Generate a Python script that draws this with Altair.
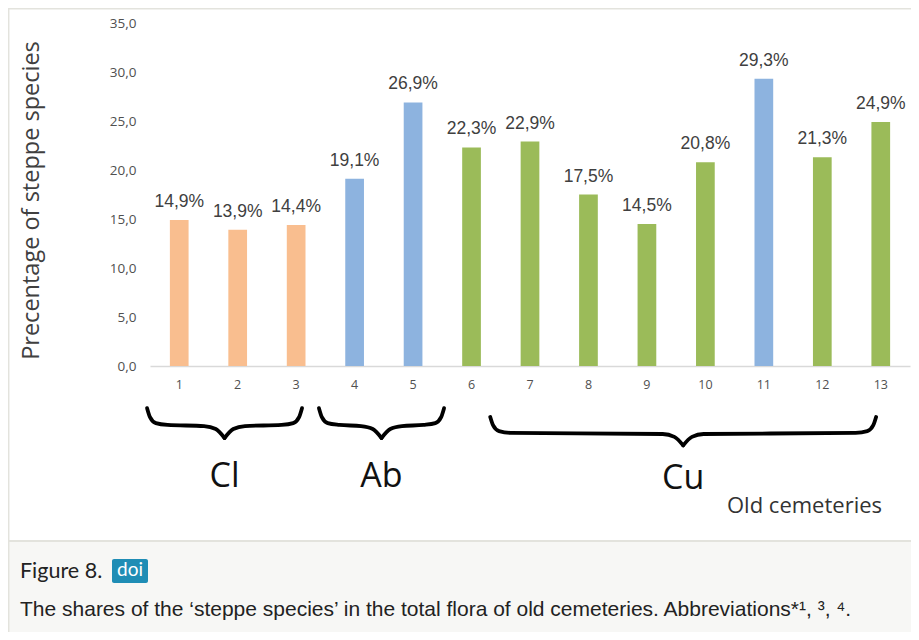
import altair as alt
import pandas as pd

# ---- data ----
sites = list(range(1, 14))
values = [14.9, 13.9, 14.4, 19.1, 26.9, 22.3, 22.9, 17.5, 14.5, 20.8, 29.3, 21.3, 24.9]
bar_class = ["Cl", "Cl", "Cl", "Ab", "Ab", "Cu", "Cu", "Cu", "Cu", "Cu", "Ab", "Cu", "Cu"]
class_domain = ["Cl", "Ab", "Cu"]
class_colors = ["#F9BE8F", "#8DB3DF", "#9BBB59"]

groups = ["Cl", "Ab", "Cu"]
group_start = [0.45, 3.39, 6.32]   # in site units
group_end = [3.10, 5.53, 12.92]
brace_top = [-4.3, -4.3, -5.2]     # in value units (below the axis)
brace_tip = [-7.35, -7.35, -8.1]
group_label_y = [-11.3, -11.3, -11.5]

y_ticks = [0, 5, 10, 15, 20, 25, 30, 35]

W, H = 760, 343

bars_df = pd.DataFrame({
    "site": sites,
    "value": values,
    "type": bar_class,
    "label": [f"{v:.1f}".replace(".", ",") + "%" for v in values],
})

# brace curves (template shape in normalized depth 0..1)
rows = []
for g, a, b, t, p in zip(groups, group_start, group_end, brace_top, brace_tip):
    m = (a + b) / 2
    left = [(a, 0.0), (a + 0.05, 0.3), (a + 0.15, 0.5), (a + 0.35, 0.56),
            (m - 0.35, 0.6), (m - 0.15, 0.7), (m, 1.0)]
    right = [(2 * m - x, v) for x, v in left]
    for half, pts in (("L", left), ("R", right)):
        for x, v in pts:
            rows.append({"g": g, "half": g + half, "bx": x, "by": t + v * (p - t)})
brace_df = pd.DataFrame(rows)

glabel_df = pd.DataFrame({
    "g": groups,
    "gx": [(a + b) / 2 for a, b in zip(group_start, group_end)],
    "gy": group_label_y,
})

one = pd.DataFrame({"k": [0]})

yscale = alt.Scale(domain=[0, 35], nice=False, zero=False)
xband = alt.Scale(paddingInner=0.68, paddingOuter=0.34)

# ---- frame & caption background ----
caption_bg = alt.Chart(one).mark_rect(color="#F7F7F5").encode(
    x=alt.value(-142), x2=alt.value(761), y=alt.value(518), y2=alt.value(620))
caption_line = alt.Chart(one).mark_rule(color="#E3E3DD", strokeWidth=2).encode(
    x=alt.value(-142), x2=alt.value(761), y=alt.value(518))
top_line = alt.Chart(one).mark_rule(color="#E3E3DD", strokeWidth=1.5).encode(
    x=alt.value(-142), x2=alt.value(761), y=alt.value(-14.2))
left_line = alt.Chart(one).mark_rule(color="#E3E3DD", strokeWidth=1.5).encode(
    x=alt.value(-141.3), y=alt.value(-15), y2=alt.value(620))

bars = alt.Chart(bars_df).mark_bar().encode(
    x=alt.X("site:O", scale=xband, sort=None,
            axis=alt.Axis(title=None, labelAngle=0, ticks=False, labelPadding=12,
                          labelFont="Open Sans", labelFontSize=12.5, labelColor="#505050",
                          domainColor="#D9D9D9", domainWidth=1.5)),
    y=alt.Y("value:Q", scale=yscale,
            axis=alt.Axis(values=y_ticks, grid=False, domain=False, ticks=False,
                          labelPadding=14, labelFlush=False,
                          labelExpr="replace(format(datum.value, '.1f'), '.', ',')",
                          labelFont="Open Sans", labelFontSize=13.5, labelColor="#505050",
                          title="Precentage of steppe species", titleFont="Open Sans",
                          titleFontSize=23.5, titleFontWeight="normal", titleColor="#404040",
                          titleAngle=270, titleX=-119, titleY=177, titleAlign="center",
                          titleBaseline="middle")),
    color=alt.Color("type:N", scale=alt.Scale(domain=class_domain, range=class_colors),
                    legend=None),
)

value_labels = alt.Chart(bars_df).mark_text(
    font="Liberation Sans", fontSize=17.5, color="#404040", baseline="alphabetic", dy=-13
).encode(
    x=alt.X("site:O", scale=xband, sort=None, axis=None),
    y=alt.Y("value:Q", scale=yscale, axis=None),
    text="label:N",
)

braces = alt.Chart(brace_df).mark_line(
    color="#000000", strokeWidth=3.8, interpolate="monotone", strokeCap="round"
).encode(
    x=alt.X("bx:Q", scale=alt.Scale(domain=[0.5, 13.5], nice=False, zero=False), axis=None),
    y=alt.Y("by:Q", scale=yscale, axis=None),
    detail="half:N",
)

group_labels = alt.Chart(glabel_df).mark_text(
    font="Open Sans", fontSize=34, color="#111111", baseline="middle"
).encode(
    x=alt.X("gx:Q", scale=alt.Scale(domain=[0.5, 13.5], nice=False, zero=False), axis=None),
    y=alt.Y("gy:Q", scale=yscale, axis=None),
    text="g:N",
)

old_cem = alt.Chart(one).mark_text(
    text="Old cemeteries", font="Open Sans", fontSize=22, color="#333333",
    align="left", baseline="middle"
).encode(x=alt.value(577), y=alt.value(483))

fig_label = alt.Chart(one).mark_text(
    text="Figure 8.", font="Lato", fontSize=21.5, color="#222222",
    align="left", baseline="middle"
).encode(x=alt.value(-130), y=alt.value(549))

doi_box = alt.Chart(one).mark_rect(color="#1F8DB5", cornerRadius=2).encode(
    x=alt.value(-38), x2=alt.value(-2), y=alt.value(536), y2=alt.value(560))
doi_text = alt.Chart(one).mark_text(
    text="doi", font="Lato", fontSize=19, color="#FFFFFF", align="center", baseline="middle"
).encode(x=alt.value(-20), y=alt.value(547))

caption = alt.Chart(one).mark_text(
    text="The shares of the \u2018steppe species\u2019 in the total flora of old cemeteries. Abbreviations*\u00b9, \u00b3, \u2074.",
    font="Liberation Sans", fontSize=21, color="#222222", align="left", baseline="middle"
).encode(x=alt.value(-130), y=alt.value(587))

chart = alt.layer(
    caption_bg, caption_line, top_line, left_line,
    bars, value_labels, braces, group_labels, old_cem,
    fig_label, doi_box, doi_text, caption,
).resolve_scale(x="independent", y="independent").properties(
    width=W, height=H,
    autosize=alt.AutoSizeParams(type="none"),
    padding={"left": 142, "top": 15, "right": 1, "bottom": 266},
    background="#FFFFFF",
).configure_view(stroke=None)

chart.save("out.html", embed_options={"renderer": "svg", "actions": False})
